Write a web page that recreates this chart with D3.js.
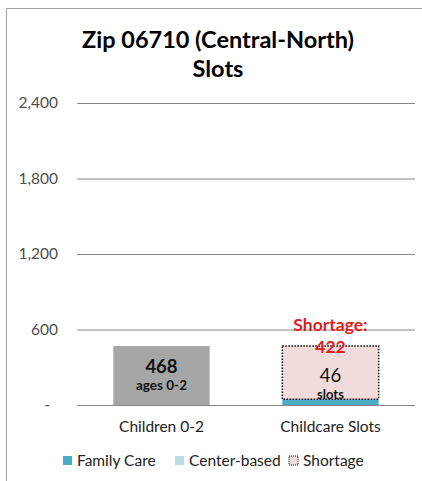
<!DOCTYPE html>
<html><head><meta charset="utf-8">
<script src="https://cdn.jsdelivr.net/npm/d3@7"></script>
<style>body{margin:0;background:#fff}svg{display:block}text{font-family:Lato,"Open Sans",sans-serif}</style>
</head><body>
<script>
const categories = ["Children 0-2", "Childcare Slots"];
const children = [468, 0];
const familyCare = [0, 46];
const centerBased = [0, 0];
const shortage = [0, 422];
const yTicks = [0, 600, 1200, 1800, 2400];
const tickLabels = ["-", "600", "1,200", "1,800", "2,400"];
const legendItems = ["Family Care", "Center-based", "Shortage"];

const W = 422, H = 481;
const svg = d3.select("body").append("svg").attr("width", W).attr("height", H);
// frame
svg.append("path").attr("d", "M6.5,481 V8.5 H422").attr("fill", "none").attr("stroke", "#a6a6a6");

svg.append("text").attr("x", 218).attr("y", 48).attr("text-anchor", "middle")
  .attr("font-size", 23.5).attr("font-weight", "bold").text("Zip 06710 (Central-North)");
svg.append("text").attr("x", 218).attr("y", 77).attr("text-anchor", "middle")
  .attr("font-size", 23.5).attr("font-weight", "bold").text("Slots");

const y = d3.scaleLinear().domain([0, 2400]).range([405, 103]);
const x = d3.scaleBand().domain(categories).range([77, 415]).paddingInner(0.43).paddingOuter(0.215);

const yAxis = d3.axisLeft(y).tickValues(yTicks).tickSize(0).tickPadding(19)
  .tickFormat((d, i) => tickLabels[i]);
const ga = svg.append("g").attr("transform", "translate(77,0)").call(yAxis);
ga.select(".domain").remove();
ga.selectAll("text").attr("font-size", 15.5).attr("fill", "#4d4d4d").style("font-family", "Lato,sans-serif")
  .attr("dx", d => d === 0 ? -8 : 0);

svg.append("g").selectAll("line").data(yTicks).join("line")
  .attr("x1", 77).attr("x2", 415).attr("y1", d => y(d) + 0.5).attr("y2", d => y(d) + 0.5)
  .attr("stroke", "#868686").attr("stroke-width", 1);

const xAxis = d3.axisBottom(x).tickSize(0).tickPadding(16);
const gx = svg.append("g").attr("transform", "translate(0,405)").call(xAxis);
gx.select(".domain").remove();
gx.selectAll("text").attr("font-size", 15.5).attr("fill", "#222").style("font-family", "Lato,sans-serif");

// children bar
svg.selectAll(".child").data(categories).join("rect")
  .attr("x", d => x(d)).attr("width", x.bandwidth())
  .attr("y", (d, i) => y(children[i])).attr("height", (d, i) => y(0) - y(children[i]))
  .attr("fill", "#a6a6a6");
// family care
svg.selectAll(".fam").data(categories).join("rect")
  .attr("x", d => x(d)).attr("width", x.bandwidth())
  .attr("y", (d, i) => y(familyCare[i])).attr("height", (d, i) => y(0) - y(familyCare[i]))
  .attr("fill", "#4bacc6");
// center-based
svg.selectAll(".cen").data(categories).join("rect")
  .attr("x", d => x(d)).attr("width", x.bandwidth())
  .attr("y", (d, i) => y(familyCare[i] + centerBased[i])).attr("height", (d, i) => y(familyCare[i]) - y(familyCare[i] + centerBased[i]))
  .attr("fill", "#b7dee8");
// shortage
const base = i => familyCare[i] + centerBased[i];
svg.selectAll(".sh").data(categories.filter((d, i) => shortage[i] > 0)).join("rect")
  .attr("x", d => x(d)).attr("width", x.bandwidth())
  .attr("y", d => { const i = categories.indexOf(d); return y(base(i) + shortage[i]); })
  .attr("height", d => { const i = categories.indexOf(d); return y(base(i)) - y(base(i) + shortage[i]); })
  .attr("fill", "#f2dcdb").attr("stroke", "#000").attr("stroke-width", 1.5).attr("stroke-dasharray", "1.5,1.5");

// labels
const c0 = x(categories[0]) + x.bandwidth() / 2, c1 = x(categories[1]) + x.bandwidth() / 2;
svg.append("text").attr("x", c0).attr("y", y(children[0]) + 27).attr("text-anchor", "middle")
  .attr("font-size", 18.5).attr("font-weight", "bold").attr("fill", "#111").text(children[0]);
svg.append("text").attr("x", c0).attr("y", y(children[0]) + 44).attr("text-anchor", "middle")
  .attr("font-size", 13.5).attr("font-weight", "bold").attr("fill", "#111").text("ages 0-2");
const tot = base(1);
svg.append("text").attr("x", c1).attr("y", y(tot) - 17).attr("text-anchor", "middle")
  .attr("font-size", 18.5).attr("fill", "#111").text(tot);
svg.append("text").attr("x", c1).attr("y", y(tot)).attr("text-anchor", "middle")
  .attr("font-size", 13).attr("font-weight", "bold").attr("fill", "#111").text("slots");
svg.append("text").attr("x", c1).attr("y", y(tot + shortage[1]) - 15).attr("text-anchor", "middle")
  .attr("font-size", 17.5).attr("font-weight", "bold").attr("fill", "#e0201c").text("Shortage:");
svg.append("text").attr("x", c1).attr("y", y(tot + shortage[1]) + 7).attr("text-anchor", "middle")
  .attr("font-size", 17.5).attr("font-weight", "bold").attr("fill", "#e0201c").text(shortage[1]);

// legend
const lx = [63, 175, 289];
const lg = svg.append("g");
legendItems.forEach((t, i) => {
  const r = lg.append("rect").attr("x", lx[i]).attr("y", 456).attr("width", 9).attr("height", 9);
  if (i === 0) r.attr("fill", "#4bacc6");
  else if (i === 1) r.attr("fill", "#b7dee8");
  else r.attr("fill", "#f2dcdb").attr("stroke", "#000").attr("stroke-dasharray", "1,1").attr("stroke-width", 1);
  lg.append("text").attr("x", lx[i] + 14).attr("y", 466).attr("font-size", 15.5).attr("fill", "#222").text(t);
});
</script>
</body></html>
